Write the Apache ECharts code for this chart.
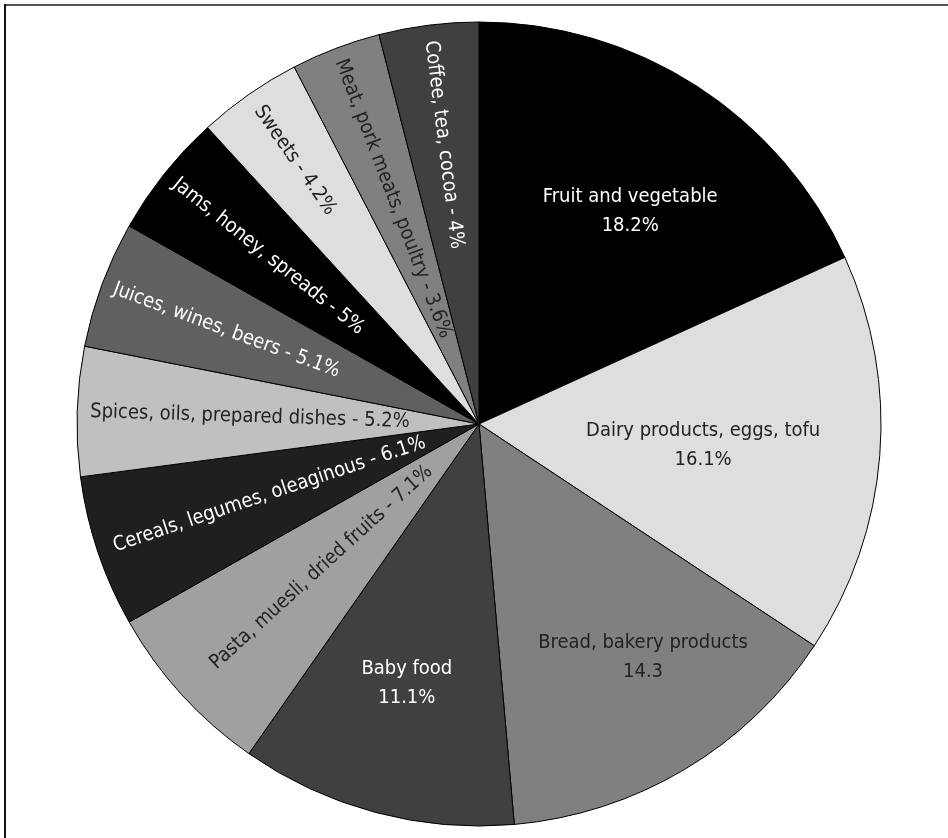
<!DOCTYPE html>
<html>
<head>
<meta charset="utf-8">
<script src="https://cdn.jsdelivr.net/npm/echarts@6/dist/echarts.min.js"></script>
<style>
    html, body { margin: 0; padding: 0; background: #fff; }
    #chart { width: 948px; height: 838px; }
</style>
</head>
<body>
<div id="chart"></div>
<script>
// 各类食品所占比例(%)
var categories = [
    "Fruit and vegetable", "Dairy products, eggs, tofu", "Bread, bakery products", "Baby food",
    "Pasta, muesli, dried fruits", "Cereals, legumes, oleaginous", "Spices, oils, prepared dishes",
    "Juices, wines, beers", "Jams, honey, spreads", "Sweets", "Meat, pork meats, poultry", "Coffee, tea, cocoa"
];
var values = [18.2, 16.1, 14.3, 11.1, 7.1, 6.1, 5.2, 5.1, 5, 4.2, 3.6, 4];

// 样式
var colors = ["#000000", "#dedede", "#808080", "#404040", "#a0a0a0", "#1f1f1f",
              "#c0c0c0", "#606060", "#000000", "#dedede", "#808080", "#404040"];
var textColors = ["#fff", "#222", "#222", "#fff", "#222", "#fff", "#222", "#fff", "#fff", "#222", "#222", "#fff"];
var radialLabel = [false, false, false, false, true, true, true, true, true, true, true, true];
var labelRadius = [0.65, 0.56, 0.71, 0.67, 0.53, 0.55, 0.57, 0.67, 0.67, 0.80, 0.60, 0.70];//标签距圆心(占半径比例)
var labelAngleShift = [2.6, 0.9, -4.3, 0.6, 0, 0, 0, 0, 0, 0, 0, 0];//标签角度微调(度)

var cx = 479, cy = 424, R = 402;
var FONT = "'Liberation Sans Narrow', 'DejaVu Sans Condensed', 'Noto Sans', sans-serif";

var total = values.reduce(function (a, b) { return a + b; }, 0);
var midAngles = [];//从12点方向顺时针, 弧度
var acc = 0;
values.forEach(function (v) {
    midAngles.push((acc + v / 2) / total * Math.PI * 2);
    acc += v;
});

var pieData = categories.map(function (name, i) {
    return {
        name: name,
        value: values[i],
        itemStyle: { color: colors[i] },
        label: {
            color: textColors[i],
            rotate: radialLabel[i] ? "radial" : 0
        }
    };
});

var myChart = echarts.init(document.getElementById("chart"));
var option = {
    animation: false,
    graphic: [
        { type: "line", shape: { x1: 5, y1: 5, x2: 948, y2: 5 }, style: { stroke: "#555", lineWidth: 2 } },
        { type: "line", shape: { x1: 5, y1: 4, x2: 5, y2: 838 }, style: { stroke: "#111", lineWidth: 2 } }
    ],
    series: [{
        type: "pie",
        center: [cx, cy],
        radius: R,
        startAngle: 90,
        clockwise: true,
        avoidLabelOverlap: false,
        itemStyle: { borderColor: "#000", borderWidth: 1 },
        label: {
            show: true,
            position: "inside",
            fontFamily: FONT,
            fontSize: 20,
            lineHeight: 29,
            align: "center",
            formatter: function (p) {
                var i = p.dataIndex;
                // 原图中面包一项没有百分号
                var v = p.value + (i === 2 ? "" : "%");
                return radialLabel[i] ? p.name + " - " + v : p.name + "\n" + v;
            }
        },
        labelLine: { show: false },
        labelLayout: function (params) {
            var i = params.dataIndex;
            var a = midAngles[i] + labelAngleShift[i] * Math.PI / 180;
            return {
                x: cx + labelRadius[i] * R * Math.sin(a),
                y: cy - labelRadius[i] * R * Math.cos(a)
            };
        },
        emphasis: { disabled: true },
        data: pieData
    }]
};
myChart.setOption(option);
</script>
</body>
</html>
